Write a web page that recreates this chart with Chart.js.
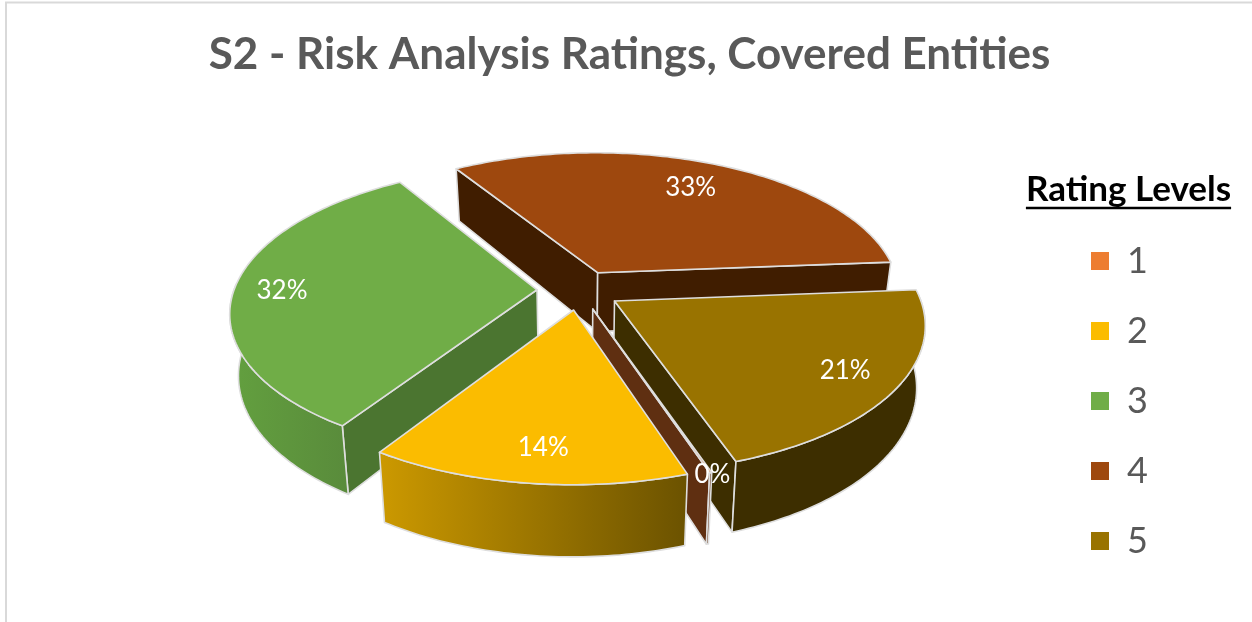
<!DOCTYPE html>
<html><head><meta charset="utf-8">
<style>html,body{margin:0;padding:0;background:#fff;overflow:hidden}canvas{display:block}</style>
<script src="https://cdn.jsdelivr.net/npm/chart.js@4/dist/chart.umd.min.js"></script>
</head><body>
<canvas id="c" width="1252" height="622"></canvas>
<script>
const categories = ['1','2','3','4','5'];
const values = [0.1,14.35,32,32.6,21];
const topColors = ['#ED7D31','#FBBC00','#70AD47','#9E480E','#997300'];
const cutColors = ['#5F2F11','#7A5C00','#4B7530','#401D00','#3D2E00'];
const wallFrom = ['#5F2F11','#CC9900','#63A03F','#401D00','#3D2E00'];
const wallTo = ['#5F2F11','#6B5200','#598B3B','#401D00','#3D2E00'];
const labelReach = [1.02,0.8,0.85,0.72,0.86];
const labelDx = [-1,6,2,6,-9];
const labelDy = [-2,4,2,-4,-4];
const CX=579, CY=290, R=303, D=2050, K=0.47, DEPTH=60, TAPER=0.025;

function project(u,v,z){
  const s=1/(1-v/D);
  return [CX+u*s*(1-TAPER*z), CY+K*v*s+z*DEPTH*s];
}
const pie3d = {
  id:'pie3d',
  afterLayout(chart){
    const l=chart.legend;
    l.left=1057; l.right=1200; l.width=143; l.top=172.5; l.bottom=622; l.height=449.5;
    l.draw=function(){this._draw();};
  },
  beforeDraw(chart){
    const c=chart.ctx;
    c.save();
    c.strokeStyle='#D9D9D9'; c.lineWidth=2;
    c.beginPath(); c.moveTo(6,622); c.lineTo(6,2.5); c.lineTo(1252,2.5); c.stroke();
    c.restore();
  },
  beforeDatasetsDraw(chart){
    const c=chart.ctx, meta=chart.getDatasetMeta(0);
    const slices=meta.data.map((el,i)=>{
      const p=el.getProps(['startAngle','endAngle']);
      const mid=(p.startAngle+p.endAngle)/2, off=el.options.offset;
      return {i,a0:p.startAngle,a1:p.endAngle,mid,ox:off*Math.cos(mid),oy:off*Math.sin(mid)};
    }).sort((a,b)=>Math.sin(a.mid)-Math.sin(b.mid));
    c.save();
    c.lineJoin='round';
    c.strokeStyle='#DEDEDE'; c.lineWidth=1.6;
    const path=(pts)=>{c.beginPath();pts.forEach((q,j)=>j?c.lineTo(q[0],q[1]):c.moveTo(q[0],q[1]));c.closePath();};
    slices.forEach(s=>{
      const n=Math.max(2,Math.ceil((s.a1-s.a0)/(Math.PI/180)));
      const rim=[], angles=[];
      for(let j=0;j<=n;j++){const a=s.a0+(s.a1-s.a0)*j/n;angles.push(a);rim.push([s.ox+R*Math.cos(a),s.oy+R*Math.sin(a)]);}
      const apex=[s.ox,s.oy];
      const quad=(A,B)=>[project(A[0],A[1],0),project(B[0],B[1],0),project(B[0],B[1],1),project(A[0],A[1],1)];
      c.fillStyle=cutColors[s.i];
      if(-Math.cos(s.a0)>0){path(quad(apex,rim[0]));c.fill();c.stroke();}
      if(Math.cos(s.a1)>0){path(quad(apex,rim[n]));c.fill();c.stroke();}
      const front=rim.filter((q,j)=>Math.sin(angles[j])>=-0.06);
      if(front.length>1){
        const topEdge=front.map(q=>project(q[0],q[1],0));
        const botEdge=front.map(q=>project(q[0],q[1],1)).reverse();
        const all=topEdge.concat(botEdge), xs=all.map(q=>q[0]);
        const g=c.createLinearGradient(Math.min(...xs),0,Math.max(...xs),0);
        g.addColorStop(0,wallFrom[s.i]); g.addColorStop(1,wallTo[s.i]);
        c.fillStyle=g; path(all); c.fill(); c.stroke();
      }
      c.fillStyle=topColors[s.i];
      path([project(apex[0],apex[1],0)].concat(rim.map(q=>project(q[0],q[1],0)))); c.fill(); c.stroke();
    });
    c.fillStyle='#fff'; c.font='26px Lato'; c.textAlign='center'; c.textBaseline='middle';
    slices.forEach(s=>{
      const r=R*labelReach[s.i];
      const q=project(s.ox+r*Math.cos(s.mid),s.oy+r*Math.sin(s.mid),0);
      c.fillText(Math.round(values[s.i])+'%',q[0]+labelDx[s.i],q[1]+labelDy[s.i]);
    });
    c.restore();
    return false;
  },
  afterDraw(chart){
    const l=chart.legend, c=chart.ctx, t=l.options.title;
    c.save();
    c.font='bold '+t.font.size+'px '+t.font.family;
    const w=c.measureText(t.text).width, mid=(l.left+l.right)/2;
    c.strokeStyle=t.color; c.lineWidth=2.5;
    c.beginPath(); c.moveTo(mid-w/2,208); c.lineTo(mid+w/2,208); c.stroke();
    c.restore();
  }
};
new Chart(document.getElementById('c'),{
  type:'pie',
  data:{labels:categories,datasets:[{data:values,backgroundColor:topColors,offset:42,borderWidth:0}]},
  options:{
    responsive:false,animation:false,rotation:161.1,
    layout:{padding:{left:7,right:0,top:0,bottom:0}},
    plugins:{
      tooltip:{enabled:false},
      title:{display:true,text:'S2 - Risk Analysis Ratings, Covered Entities',color:'#595959',font:{family:'Lato',size:44,weight:'bold'},padding:{top:28,bottom:20}},
      legend:{display:true,position:'right',align:'start',
        title:{display:true,text:'Rating Levels',color:'#000',font:{family:'Lato',size:35,weight:'bold'},padding:{top:0,bottom:-5.5}},
        labels:{boxWidth:18,boxHeight:18,color:'#595959',font:{family:'Lato',size:36},padding:34}}
    }
  },
  plugins:[pie3d]
});
</script>
</body></html>
